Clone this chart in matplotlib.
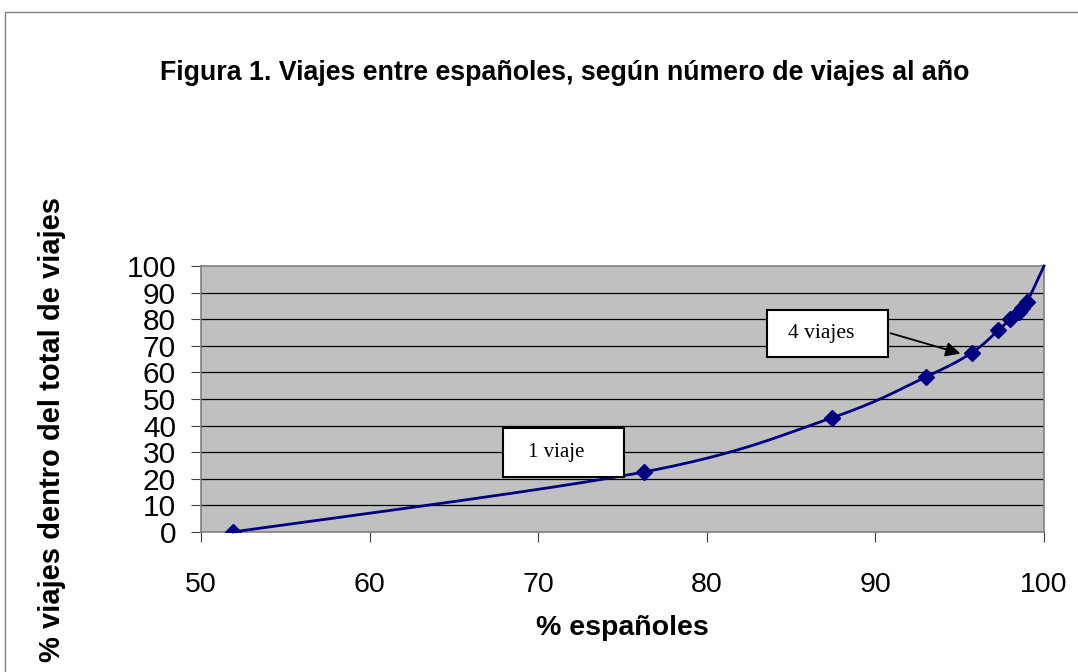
import numpy as np
import matplotlib
matplotlib.use("Agg")
import matplotlib.pyplot as plt
from matplotlib.patches import Rectangle

plt.rcParams['font.family'] = ['Liberation Sans', 'DejaVu Sans']

# Data
pct_espanoles = [51.9, 76.3, 87.4, 93.0, 95.7, 97.3, 98.0, 98.5, 98.7, 99.0, 100.0]
pct_viajes = [0.0, 22.6, 42.9, 58.3, 67.3, 75.9, 80.1, 82.8, 84.2, 86.5, 100.0]
y_ticks = list(range(0, 101, 10))
x_ticks = [50, 60, 70, 80, 90, 100]


def smooth_curve(x, y, n=30):
    """Catmull-Rom style smoothing, similar to Excel's smoothed line."""
    x = np.asarray(x, float)
    y = np.asarray(y, float)
    px = np.concatenate([[x[0]], x, [x[-1]]])
    py = np.concatenate([[y[0]], y, [y[-1]]])
    out_x, out_y = [], []
    t = np.linspace(0, 1, n)
    for i in range(1, len(px) - 2):
        p0, p1, p2, p3 = (np.array([px[j], py[j]]) for j in range(i - 1, i + 3))
        c1 = p1 + (p2 - p0) / 6
        c2 = p2 - (p3 - p1) / 6
        seg = ((1 - t) ** 3)[:, None] * p1 + (3 * (1 - t) ** 2 * t)[:, None] * c1 \
            + (3 * (1 - t) * t ** 2)[:, None] * c2 + (t ** 3)[:, None] * p2
        out_x.extend(seg[:, 0])
        out_y.extend(seg[:, 1])
    return np.array(out_x), np.array(out_y)


fig = plt.figure(figsize=(10.78, 6.72), dpi=100)
W, H = 1078, 672

# outer chart border
fig.patches.append(Rectangle((5 / W, -0.1), 1.2, 1 - 12 / H + 0.1, transform=fig.transFigure,
                             fill=False, edgecolor='#808080', lw=1.0))

ax = fig.add_axes([201 / W, 1 - 532 / H, (1044 - 201) / W, (532 - 266) / H])
ax.set_facecolor('#C0C0C0')
ax.set_xlim(50, 100)
ax.set_ylim(0, 100)

for yv in y_ticks[1:-1]:
    ax.axhline(yv, color='black', lw=0.9, zorder=1)

sx, sy = smooth_curve(pct_espanoles, pct_viajes)
ax.plot(sx, sy, color='#000080', lw=2.0, zorder=3, clip_on=False)
ax.plot(pct_espanoles[:-1], pct_viajes[:-1], linestyle='none', marker='D', ms=8.5,
        color='#000080', zorder=4)

for sp in ax.spines.values():
    sp.set_color('#808080')
    sp.set_linewidth(1.2)

ax.set_xticks(x_ticks)
ax.set_yticks(y_ticks)
ax.tick_params(labelsize=20.5, direction='out', color='#404040')
ax.tick_params(axis='y', length=7, pad=11, labelsize=21.5)
ax.tick_params(axis='x', length=7, pad=22)

ax.set_xlabel('% españoles', fontsize=20.5, fontweight='bold', labelpad=12)
fig.text(52 / W, 1 - 430 / H, '% viajes dentro del total de viajes', rotation=90,
         fontsize=21, fontweight='bold', ha='center', va='center')
fig.text(565 / W, 1 - 73 / H, 'Figura 1. Viajes entre españoles, según número de viajes al año',
         fontsize=19.3, fontweight='bold', ha='center', va='center')

# annotation boxes
ax.add_patch(Rectangle((67.9, 20.7), 7.2, 18.4, facecolor='white', edgecolor='black',
                       lw=1.5, zorder=5, clip_on=False))
ax.text(69.4, 30.0, '1 viaje', family=['Liberation Serif'], fontsize=15, va='center', zorder=6)

ax.add_patch(Rectangle((83.6, 65.8), 7.15, 17.7, facecolor='white', edgecolor='black',
                       lw=1.5, zorder=5, clip_on=False))
ax.text(84.8, 74.8, '4 viajes', family=['Liberation Serif'], fontsize=15.5, va='center', zorder=6)
ax.annotate('', xy=(95.2, 66.8), xytext=(90.75, 75.0),
            arrowprops=dict(arrowstyle='-|>', color='black', lw=1.3, mutation_scale=22),
            zorder=6)

fig.savefig('out.png', dpi=100)
